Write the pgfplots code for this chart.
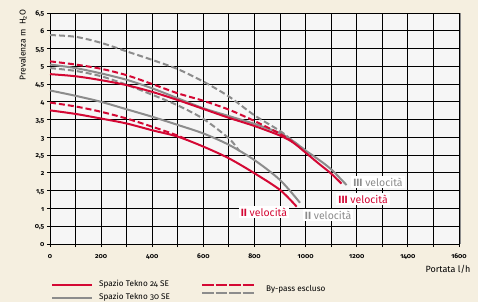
\documentclass[border=0pt]{standalone}
\usepackage{fontspec}
\setmainfont{Fira Sans}[Numbers=OldStyle]
\usepackage{pgfplots}
\pgfplotsset{compat=1.18}
\definecolor{tred}{RGB}{212,8,52}
\definecolor{tgrey}{RGB}{140,140,140}
\definecolor{cream}{RGB}{245,239,224}
\definecolor{plotbg}{RGB}{246,246,246}
\begin{document}
\begin{tikzpicture}[x=1pt,y=1pt]
\fill[cream] (0,0) rectangle (478,302);
\useasboundingbox (0,0) rectangle (478,302);
\fill[plotbg] (50,58) rectangle (459,289);
\draw[tgrey, line width=1.6pt] (460,58) -- (460,289);
% tick labels
\foreach \v [count=\i from 0] in {0,200,400,600,800,1000,1200,1400,1600}
  {\node[anchor=base, inner sep=0pt, font=\fontsize{6.8}{8}\selectfont\bfseries] at ({50+\i*51.125},43.5) {\v};}
\foreach \v [count=\i from 0] in {0,{0,5},1,{1,5},2,{2,5},3,{3,5},4,{4,5},5,{5,5},6,{6,5}}
  {\node[anchor=mid east, inner sep=0pt, font=\fontsize{6.8}{8}\selectfont\bfseries] at (44.5,{58+\i*17.7692}) {\v};}
\begin{axis}[
 at={(50pt,58pt)}, anchor=south west,
 scale only axis, width=409pt, height=231pt,
 xmin=0,xmax=1600,ymin=0,ymax=6.5,
 axis lines=none,
 clip=false,
]
% grid
\pgfplotsinvokeforeach{0,100,200,300,400,500,600,700,800,900,1000,1100,1200,1300,1400,1500,1600}{
  \addplot[black, line width=1pt, forget plot] coordinates {(#1,-0.085) (#1,6.5)};}
\pgfplotsinvokeforeach{0,0.5,1,1.5,2,2.5,3,3.5,4,4.5,5,5.5,6,6.5}{
  \addplot[black, line width=1pt, forget plot] coordinates {(-12,#1) (1600,#1)};}
% grey (Spazio Tekno 30 SE)
\addplot[tgrey, line width=2pt, smooth, dash pattern=on 6pt off 3pt] coordinates {
(0,5.88) (100,5.83) (200,5.66) (300,5.42) (400,5.18) (500,4.92) (600,4.57) (700,4.15) (800,3.62) (900,3.18) (950,2.9) (1000,2.63)};
\addplot[tgrey, line width=2pt, smooth, dash pattern=on 6pt off 3pt] coordinates {
(0,4.95) (100,4.87) (200,4.72) (300,4.48) (400,4.2) (500,3.9) (600,3.52) (700,2.97) (740,2.62)};
\addplot[tgrey, line width=2pt, smooth] coordinates {
(0,5.05) (100,4.95) (200,4.80) (300,4.62) (400,4.38) (500,4.10) (600,3.82) (700,3.6) (800,3.38) (900,3.12) (950,2.9) (1000,2.63) (1050,2.38) (1100,2.1) (1160,1.66)};
\addplot[tgrey, line width=2pt, smooth] coordinates {
(0,4.32) (100,4.17) (200,4.0) (300,3.79) (400,3.58) (500,3.35) (600,3.11) (700,2.79) (800,2.36) (900,1.80) (978,1.16)};
% red (Spazio Tekno 24 SE)
\addplot[tred, line width=2pt, smooth, dash pattern=on 6pt off 3pt] coordinates {
(0,5.14) (100,5.05) (200,4.93) (300,4.75) (400,4.5) (500,4.24) (600,4.03) (700,3.78) (800,3.46) (900,3.1) (950,2.87)};
\addplot[tred, line width=2pt, smooth, dash pattern=on 6pt off 3pt] coordinates {
(0,3.98) (100,3.87) (200,3.72) (300,3.53) (400,3.3) (500,3.05) (530,2.95)};
\addplot[tred, line width=2pt, smooth] coordinates {
(0,4.78) (100,4.72) (200,4.61) (300,4.47) (400,4.28) (500,4.05) (600,3.80) (700,3.55) (800,3.32) (900,3.05) (950,2.86) (1000,2.57) (1050,2.27) (1100,1.98) (1140,1.70)};
\addplot[tred, line width=2pt, smooth] coordinates {
(0,3.76) (100,3.66) (200,3.53) (300,3.39) (400,3.2) (500,3.02) (600,2.74) (700,2.41) (800,1.99) (900,1.52) (965,1.05)};
% curve labels
\node[fill=white, text=tred, inner sep=2pt, font=\fontsize{10.5}{12}\selectfont] at (axis cs:837,0.9) {\textbf{II} velocità};
\node[fill=white, text=tgrey, inner sep=2pt, font=\fontsize{10.5}{12}\selectfont] at (axis cs:1088,0.81) {\textbf{II} velocità};
\node[fill=white, text=tgrey, inner sep=2pt, font=\fontsize{10.5}{12}\selectfont] at (axis cs:1283,1.74) {\textbf{III} velocità};
\node[fill=white, text=tred, inner sep=2pt, font=\fontsize{10.5}{12}\selectfont] at (axis cs:1225,1.26) {\textbf{III} velocità};
\end{axis}
% axis titles
\node[rotate=90, font=\fontsize{8.5}{10}\selectfont] at (23,257) {Prevalenza m\ \ H\textsubscript{2}O};
\node[anchor=east, font=\fontsize{9}{10}\selectfont] at (474,33) {Portata l/h};
% legend
\draw[tred, line width=2pt] (52,17.5) -- (92,17.5);
\node[anchor=west, font=\fontsize{8.2}{9}\selectfont, inner sep=0pt] at (99,18) {Spazio Tekno 24 SE};
\draw[tgrey, line width=2pt] (52,4) -- (92,4);
\node[anchor=west, font=\fontsize{8.2}{9}\selectfont, inner sep=0pt] at (99,5) {Spazio Tekno 30 SE};
\draw[tred, line width=2pt, dash pattern=on 11.5pt off 2pt] (202,17) -- (255,17);
\draw[tgrey, line width=2pt, dash pattern=on 11.5pt off 2pt] (202,9.5) -- (255,9.5);
\node[anchor=west, font=\fontsize{8.2}{9}\selectfont, inner sep=0pt] at (266,13) {By-pass escluso};
\end{tikzpicture}
\end{document}
